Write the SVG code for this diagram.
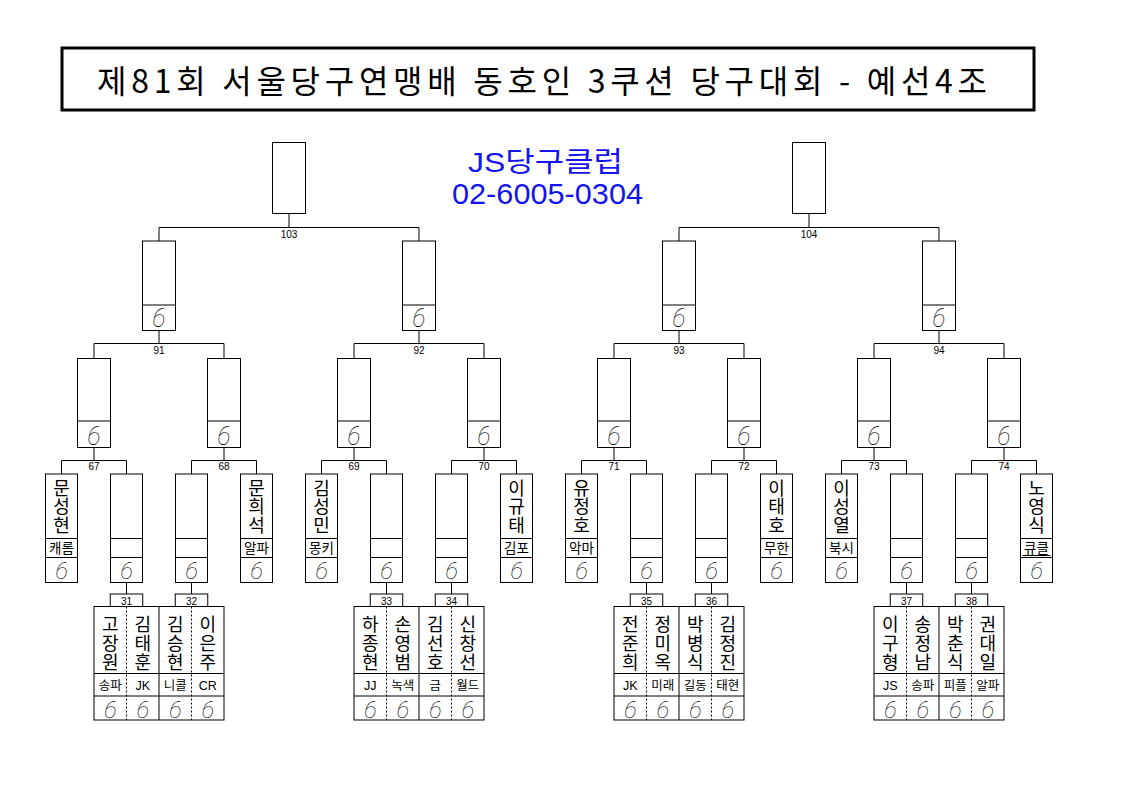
<svg xmlns="http://www.w3.org/2000/svg" width="1123" height="794" viewBox="0 0 1123 794">
<style>
.b{fill:#fff;stroke:#000;stroke-width:1}
.l{fill:none;stroke:#000;stroke-width:1}
.d{fill:none;stroke:#000;stroke-width:1;stroke-dasharray:2 2}
.n{font-family:"Liberation Sans",Arial,sans-serif;font-size:10px;text-anchor:middle;fill:#000}
.k{font-family:"Noto Sans CJK KR","Noto Sans",sans-serif;font-size:18px;writing-mode:vertical-rl;text-orientation:upright;letter-spacing:0.5px;fill:#000}
.k2{font-family:"Noto Sans CJK KR","Noto Sans",sans-serif;font-size:18px;writing-mode:vertical-rl;text-orientation:upright;letter-spacing:1.25px;fill:#000}
.c{font-family:"Liberation Sans","Noto Sans CJK KR",sans-serif;font-size:13.5px;text-anchor:middle;fill:#000}
.cs{font-family:"Liberation Sans","Noto Sans CJK KR",sans-serif;font-size:12.5px;text-anchor:middle;fill:#000}
.s{font-family:Roboto,"DejaVu Sans",sans-serif;font-weight:100;font-style:italic;font-size:25px;text-anchor:middle;fill:#000}
.s2{font-family:Roboto,"DejaVu Sans",sans-serif;font-weight:100;font-style:italic;font-size:24px;text-anchor:middle;fill:#000}
.t{font-family:"Noto Sans CJK KR","Liberation Sans",sans-serif;font-size:32px;fill:#000}
.blue{font-family:"Liberation Sans","Noto Sans CJK KR",sans-serif;fill:#1414f0}
</style>
<rect width="1123" height="794" fill="#fff"/>
<g id="title">
<rect x="62" y="48" width="972" height="62" fill="#fff" stroke="#000" stroke-width="3"/>
<text class="t" x="97" y="93" textLength="890" lengthAdjust="spacing">제81회 서울당구연맹배 동호인 3쿠션 당구대회 - 예선4조</text>
</g>
<g id="club">
<text class="blue" x="468" y="171.5" font-size="28" textLength="155" lengthAdjust="spacingAndGlyphs">JS당구클럽</text>
<text class="blue" x="452" y="204" font-size="29.5" textLength="191" lengthAdjust="spacingAndGlyphs">02-6005-0304</text>
</g>
<g id="connectors">
<path class="l" d="M289 213.5V227.5M159 241V227.5H419V241M809 213.5V227.5M679 241V227.5H939V241
M159 330.5V343.5M94 358.5V343.5H224V358.5M419 330.5V343.5M354 358.5V343.5H484V358.5M679 330.5V343.5M614 358.5V343.5H744V358.5M939 330.5V343.5M874 358.5V343.5H1004V358.5
M94 447.5V460.5M61.5 474V460.5H126.5V474M224 447.5V460.5M191.5 474V460.5H256.5V474M354 447.5V460.5M321.5 474V460.5H386.5V474M484 447.5V460.5M451.5 474V460.5H516.5V474
M614 447.5V460.5M581.5 474V460.5H646.5V474M744 447.5V460.5M711.5 474V460.5H776.5V474M874 447.5V460.5M841.5 474V460.5H906.5V474M1004 447.5V460.5M971.5 474V460.5H1036.5V474
M126.5 582.5V594M191.5 582.5V594M386.5 582.5V594M451.5 582.5V594M646.5 582.5V594M711.5 582.5V594M906.5 582.5V594M971.5 582.5V594"/>
<text class="n" x="289" y="238">103</text>
<text class="n" x="809" y="238">104</text>
<text class="n" x="159" y="354">91</text>
<text class="n" x="419" y="354">92</text>
<text class="n" x="679" y="354">93</text>
<text class="n" x="939" y="354">94</text>
<text class="n" x="94" y="470">67</text>
<text class="n" x="224" y="470">68</text>
<text class="n" x="354" y="470">69</text>
<text class="n" x="484" y="470">70</text>
<text class="n" x="614" y="470">71</text>
<text class="n" x="744" y="470">72</text>
<text class="n" x="874" y="470">73</text>
<text class="n" x="1004" y="470">74</text>
</g>
<g id="w103"><rect class="b" x="272.5" y="142.5" width="33" height="71"/></g>
<g id="w104"><rect class="b" x="792.5" y="142.5" width="33" height="71"/></g>
<g id="m91"><rect class="b" x="142.5" y="241" width="33" height="89.5"/><line class="l" x1="142.5" y1="305" x2="175.5" y2="305"/><text class="s" x="159" y="327">6</text></g>
<g id="m92"><rect class="b" x="402.5" y="241" width="33" height="89.5"/><line class="l" x1="402.5" y1="305" x2="435.5" y2="305"/><text class="s" x="419" y="327">6</text></g>
<g id="m93"><rect class="b" x="662.5" y="241" width="33" height="89.5"/><line class="l" x1="662.5" y1="305" x2="695.5" y2="305"/><text class="s" x="679" y="327">6</text></g>
<g id="m94"><rect class="b" x="922.5" y="241" width="33" height="89.5"/><line class="l" x1="922.5" y1="305" x2="955.5" y2="305"/><text class="s" x="939" y="327">6</text></g>
<g id="m67"><rect class="b" x="77.5" y="358.5" width="33" height="89"/><line class="l" x1="77.5" y1="421" x2="110.5" y2="421"/><text class="s" x="94" y="444.5">6</text></g>
<g id="m68"><rect class="b" x="207.5" y="358.5" width="33" height="89"/><line class="l" x1="207.5" y1="421" x2="240.5" y2="421"/><text class="s" x="224" y="444.5">6</text></g>
<g id="m69"><rect class="b" x="337.5" y="358.5" width="33" height="89"/><line class="l" x1="337.5" y1="421" x2="370.5" y2="421"/><text class="s" x="354" y="444.5">6</text></g>
<g id="m70"><rect class="b" x="467.5" y="358.5" width="33" height="89"/><line class="l" x1="467.5" y1="421" x2="500.5" y2="421"/><text class="s" x="484" y="444.5">6</text></g>
<g id="m71"><rect class="b" x="597.5" y="358.5" width="33" height="89"/><line class="l" x1="597.5" y1="421" x2="630.5" y2="421"/><text class="s" x="614" y="444.5">6</text></g>
<g id="m72"><rect class="b" x="727.5" y="358.5" width="33" height="89"/><line class="l" x1="727.5" y1="421" x2="760.5" y2="421"/><text class="s" x="744" y="444.5">6</text></g>
<g id="m73"><rect class="b" x="857.5" y="358.5" width="33" height="89"/><line class="l" x1="857.5" y1="421" x2="890.5" y2="421"/><text class="s" x="874" y="444.5">6</text></g>
<g id="m74"><rect class="b" x="987.5" y="358.5" width="33" height="89"/><line class="l" x1="987.5" y1="421" x2="1020.5" y2="421"/><text class="s" x="1004" y="444.5">6</text></g>
<g id="p1"><rect class="b" x="45.5" y="474" width="32" height="108.5"/><path class="l" d="M45.5 538.5H77.5M45.5 557.5H77.5"/><text class="k" x="61.5" y="479">문성현</text><text class="c" x="61.5" y="553">캐롬</text><text class="s2" x="61.5" y="578.5">6</text></g>
<g id="p2"><rect class="b" x="110.5" y="474" width="32" height="108.5"/><path class="l" d="M110.5 538.5H142.5M110.5 557.5H142.5"/><text class="s2" x="126.5" y="578.5">6</text></g>
<g id="p3"><rect class="b" x="175.5" y="474" width="32" height="108.5"/><path class="l" d="M175.5 538.5H207.5M175.5 557.5H207.5"/><text class="s2" x="191.5" y="578.5">6</text></g>
<g id="p4"><rect class="b" x="240.5" y="474" width="32" height="108.5"/><path class="l" d="M240.5 538.5H272.5M240.5 557.5H272.5"/><text class="k" x="256.5" y="479">문희석</text><text class="c" x="256.5" y="553">알파</text><text class="s2" x="256.5" y="578.5">6</text></g>
<g id="p5"><rect class="b" x="305.5" y="474" width="32" height="108.5"/><path class="l" d="M305.5 538.5H337.5M305.5 557.5H337.5"/><text class="k" x="321.5" y="479">김성민</text><text class="c" x="321.5" y="553">몽키</text><text class="s2" x="321.5" y="578.5">6</text></g>
<g id="p6"><rect class="b" x="370.5" y="474" width="32" height="108.5"/><path class="l" d="M370.5 538.5H402.5M370.5 557.5H402.5"/><text class="s2" x="386.5" y="578.5">6</text></g>
<g id="p7"><rect class="b" x="435.5" y="474" width="32" height="108.5"/><path class="l" d="M435.5 538.5H467.5M435.5 557.5H467.5"/><text class="s2" x="451.5" y="578.5">6</text></g>
<g id="p8"><rect class="b" x="500.5" y="474" width="32" height="108.5"/><path class="l" d="M500.5 538.5H532.5M500.5 557.5H532.5"/><text class="k" x="516.5" y="479">이규태</text><text class="c" x="516.5" y="553">김포</text><text class="s2" x="516.5" y="578.5">6</text></g>
<g id="p9"><rect class="b" x="565.5" y="474" width="32" height="108.5"/><path class="l" d="M565.5 538.5H597.5M565.5 557.5H597.5"/><text class="k" x="581.5" y="479">유정호</text><text class="c" x="581.5" y="553">악마</text><text class="s2" x="581.5" y="578.5">6</text></g>
<g id="p10"><rect class="b" x="630.5" y="474" width="32" height="108.5"/><path class="l" d="M630.5 538.5H662.5M630.5 557.5H662.5"/><text class="s2" x="646.5" y="578.5">6</text></g>
<g id="p11"><rect class="b" x="695.5" y="474" width="32" height="108.5"/><path class="l" d="M695.5 538.5H727.5M695.5 557.5H727.5"/><text class="s2" x="711.5" y="578.5">6</text></g>
<g id="p12"><rect class="b" x="760.5" y="474" width="32" height="108.5"/><path class="l" d="M760.5 538.5H792.5M760.5 557.5H792.5"/><text class="k" x="776.5" y="479">이태호</text><text class="c" x="776.5" y="553">무한</text><text class="s2" x="776.5" y="578.5">6</text></g>
<g id="p13"><rect class="b" x="825.5" y="474" width="32" height="108.5"/><path class="l" d="M825.5 538.5H857.5M825.5 557.5H857.5"/><text class="k" x="841.5" y="479">이성열</text><text class="c" x="841.5" y="553">북시</text><text class="s2" x="841.5" y="578.5">6</text></g>
<g id="p14"><rect class="b" x="890.5" y="474" width="32" height="108.5"/><path class="l" d="M890.5 538.5H922.5M890.5 557.5H922.5"/><text class="s2" x="906.5" y="578.5">6</text></g>
<g id="p15"><rect class="b" x="955.5" y="474" width="32" height="108.5"/><path class="l" d="M955.5 538.5H987.5M955.5 557.5H987.5"/><text class="s2" x="971.5" y="578.5">6</text></g>
<g id="p16"><rect class="b" x="1020.5" y="474" width="32" height="108.5"/><path class="l" d="M1020.5 538.5H1052.5M1020.5 557.5H1052.5M1022.5 555.5H1050.5"/><text class="k" x="1036.5" y="479">노영식</text><text class="c" x="1036.5" y="553">큐클</text><text class="s2" x="1036.5" y="578.5">6</text></g>
<g id="b31"><rect class="b" x="110.25" y="594" width="32.5" height="12.5"/><text class="n" x="126.5" y="604.5">31</text></g>
<g id="b32"><rect class="b" x="175.25" y="594" width="32.5" height="12.5"/><text class="n" x="191.5" y="604.5">32</text></g>
<g id="b33"><rect class="b" x="370.25" y="594" width="32.5" height="12.5"/><text class="n" x="386.5" y="604.5">33</text></g>
<g id="b34"><rect class="b" x="435.25" y="594" width="32.5" height="12.5"/><text class="n" x="451.5" y="604.5">34</text></g>
<g id="b35"><rect class="b" x="630.25" y="594" width="32.5" height="12.5"/><text class="n" x="646.5" y="604.5">35</text></g>
<g id="b36"><rect class="b" x="695.25" y="594" width="32.5" height="12.5"/><text class="n" x="711.5" y="604.5">36</text></g>
<g id="b37"><rect class="b" x="890.25" y="594" width="32.5" height="12.5"/><text class="n" x="906.5" y="604.5">37</text></g>
<g id="b38"><rect class="b" x="955.25" y="594" width="32.5" height="12.5"/><text class="n" x="971.5" y="604.5">38</text></g>
<g id="q1">
<rect class="b" x="94" y="606.5" width="130" height="113.5"/>
<path class="l" d="M94 673.5H224M94 696H224M159 606.5V720"/>
<path class="d" d="M126.5 606.5V720M191.5 606.5V720"/>
<text class="k2" x="110.25" y="615">고장원</text>
<text class="k2" x="142.75" y="615">김태훈</text>
<text class="k2" x="175.25" y="615">김승현</text>
<text class="k2" x="207.75" y="615">이은주</text>
<text class="cs" x="110.25" y="689.5">송파</text><text class="cs" x="142.75" y="689.5">JK</text><text class="cs" x="175.25" y="689.5">니콜</text><text class="cs" x="207.75" y="689.5">CR</text>
<text class="s2" x="110.25" y="718">6</text><text class="s2" x="142.75" y="718">6</text><text class="s2" x="175.25" y="718">6</text><text class="s2" x="207.75" y="718">6</text>
</g>
<g id="q2">
<rect class="b" x="354" y="606.5" width="130" height="113.5"/>
<path class="l" d="M354 673.5H484M354 696H484M419 606.5V720"/>
<path class="d" d="M386.5 606.5V720M451.5 606.5V720"/>
<text class="k2" x="370.25" y="615">하종현</text>
<text class="k2" x="402.75" y="615">손영범</text>
<text class="k2" x="435.25" y="615">김선호</text>
<text class="k2" x="467.75" y="615">신창선</text>
<text class="cs" x="370.25" y="689.5">JJ</text><text class="cs" x="402.75" y="689.5">녹색</text><text class="cs" x="435.25" y="689.5">금</text><text class="cs" x="467.75" y="689.5">월드</text>
<text class="s2" x="370.25" y="718">6</text><text class="s2" x="402.75" y="718">6</text><text class="s2" x="435.25" y="718">6</text><text class="s2" x="467.75" y="718">6</text>
</g>
<g id="q3">
<rect class="b" x="614" y="606.5" width="130" height="113.5"/>
<path class="l" d="M614 673.5H744M614 696H744M679 606.5V720"/>
<path class="d" d="M646.5 606.5V720M711.5 606.5V720"/>
<text class="k2" x="630.25" y="615">전준희</text>
<text class="k2" x="662.75" y="615">정미옥</text>
<text class="k2" x="695.25" y="615">박병식</text>
<text class="k2" x="727.75" y="615">김정진</text>
<text class="cs" x="630.25" y="689.5">JK</text><text class="cs" x="662.75" y="689.5">미래</text><text class="cs" x="695.25" y="689.5">길동</text><text class="cs" x="727.75" y="689.5">태현</text>
<text class="s2" x="630.25" y="718">6</text><text class="s2" x="662.75" y="718">6</text><text class="s2" x="695.25" y="718">6</text><text class="s2" x="727.75" y="718">6</text>
</g>
<g id="q4">
<rect class="b" x="874" y="606.5" width="130" height="113.5"/>
<path class="l" d="M874 673.5H1004M874 696H1004M939 606.5V720"/>
<path class="d" d="M906.5 606.5V720M971.5 606.5V720"/>
<text class="k2" x="890.25" y="615">이구형</text>
<text class="k2" x="922.75" y="615">송정남</text>
<text class="k2" x="955.25" y="615">박춘식</text>
<text class="k2" x="987.75" y="615">권대일</text>
<text class="cs" x="890.25" y="689.5">JS</text><text class="cs" x="922.75" y="689.5">송파</text><text class="cs" x="955.25" y="689.5">피플</text><text class="cs" x="987.75" y="689.5">알파</text>
<text class="s2" x="890.25" y="718">6</text><text class="s2" x="922.75" y="718">6</text><text class="s2" x="955.25" y="718">6</text><text class="s2" x="987.75" y="718">6</text>
</g>
</svg>
